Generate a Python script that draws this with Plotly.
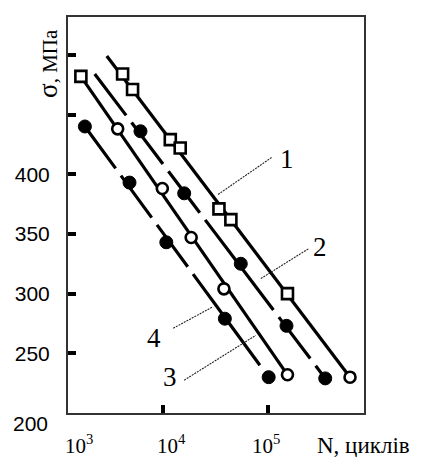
import numpy as np
import plotly.graph_objects as go

# ---------------- data ----------------
# curve 1: open squares, solid line
c1_N = [4070, 5070, 11660, 14520, 34150, 44430, 155000, 616600]
c1_sigma = [484, 471, 429, 422, 371, 362, 300, 230]
c1_fit_N = [2870, 616600]
c1_fit_sigma = [499, 230]

# curve 2: filled circles, dashed line
c2_N = [6040, 15850, 55300, 151700, 356600]
c2_sigma = [436, 384, 325, 273, 229]
c2_fit_N = [2200, 356600]
c2_fit_sigma = [484, 229]

# curve 3: open markers, solid line
c3_N = [1620, 3650, 9780, 18490, 38100, 155000]
c3_sigma = [482, 438, 388, 347, 304, 232]
c3_fit_N = [1620, 155000]
c3_fit_sigma = [482, 232]

# curve 4: filled circles, dashed line
c4_N = [1770, 4740, 10680, 38900, 102300]
c4_sigma = [440, 393, 343, 279, 230]
c4_fit_N = [1770, 102300]
c4_fit_sigma = [440, 230]

# curve labels and their leader lines
curve_labels = ["1", "2", "3", "4"]
label_N = [151700, 319900, 11670, 8200]
label_sigma = [413, 339, 230, 263]
leader_N = [[109100, 33400], [245500, 85700], [15850, 76900], [12450, 29920]]
leader_sigma = [[414, 383], [337.5, 312.5], [227.5, 265], [271, 289]]

# axis ticks
y_tick_vals = [250, 300, 350, 400]
y_tick_text = ["250", "300", "350", "400"]
y_minor_tick_vals = [450, 500]
x_tick_vals = [1e4, 1e5]
x_label_text = ["10<sup>3</sup>", "10<sup>4</sup>", "10<sup>5</sup>"]
x_label_pos = [1550, 11900, 95700]
y_bottom_label = "200"
x_title = "N, циклів"
y_title = "<span style='font-size:27px'>σ</span>, МПа"

# ---------------- figure ----------------
fig = go.Figure()
BLACK = "#000000"
DASH = "52px,9px"

def fit_line(N, s, dash):
    fig.add_trace(go.Scatter(x=N, y=s, mode="lines",
                             line=dict(color=BLACK, width=3.2, dash=dash),
                             hoverinfo="skip", showlegend=False))

fit_line(c1_fit_N, c1_fit_sigma, "solid")
fit_line(c2_fit_N, c2_fit_sigma, DASH)
fit_line(c3_fit_N, c3_fit_sigma, "solid")
fit_line(c4_fit_N, c4_fit_sigma, DASH)

for lx, ly in zip(leader_N, leader_sigma):
    fig.add_trace(go.Scatter(x=lx, y=ly, mode="lines",
                             line=dict(color="#222222", width=1.1, dash="2px,1px"),
                             hoverinfo="skip", showlegend=False))

c1_symbols = ["square"] * (len(c1_N) - 1) + ["circle"]
c3_symbols = ["square"] + ["circle"] * (len(c3_N) - 1)

fig.add_trace(go.Scatter(x=c1_N, y=c1_sigma, mode="markers",
                         marker=dict(symbol=c1_symbols, size=11, color="white",
                                     line=dict(color=BLACK, width=2.6)),
                         showlegend=False))
fig.add_trace(go.Scatter(x=c3_N, y=c3_sigma, mode="markers",
                         marker=dict(symbol=c3_symbols, size=11, color="white",
                                     line=dict(color=BLACK, width=2.6)),
                         showlegend=False))
for N, s in [(c2_N, c2_sigma), (c4_N, c4_sigma)]:
    fig.add_trace(go.Scatter(x=N, y=s, mode="markers",
                             marker=dict(symbol="circle", size=13, color=BLACK,
                                         line=dict(color=BLACK, width=1)),
                             showlegend=False))

SERIF = "Liberation Serif"
SANS = "Liberation Sans"

annotations = []
for t, n, s in zip(curve_labels, label_N, label_sigma):
    annotations.append(dict(x=np.log10(n), y=s, xref="x", yref="y", text=t,
                            showarrow=False, font=dict(family=SERIF, size=27, color=BLACK)))
for t, n in zip(x_label_text, x_label_pos):
    annotations.append(dict(x=np.log10(n), y=-0.079, xref="x", yref="paper", text=t,
                            showarrow=False, xanchor="center", yanchor="middle",
                            borderpad=0,
                            font=dict(family=SERIF, size=21, color=BLACK)))
annotations.append(dict(x=0.836, y=-0.083, xref="paper", yref="paper", text=x_title,
                        showarrow=False, xanchor="left", yanchor="middle",
                        font=dict(family=SERIF, size=23, color=BLACK)))
annotations.append(dict(x=-0.06, y=-0.026, xref="paper", yref="paper", text=y_bottom_label,
                        showarrow=False, xanchor="right", yanchor="middle",
                        font=dict(family=SANS, size=21, color=BLACK)))
annotations.append(dict(x=-0.067, y=0.882, xref="paper", yref="paper", text=y_title,
                        showarrow=False, textangle=-90, xanchor="center", yanchor="middle",
                        font=dict(family=SERIF, size=21, color=BLACK)))

# the page body has an 8px default margin, so the figure is placed at (8, 8)
fig.update_layout(
    width=413, height=449,
    margin=dict(l=58, r=57, t=7, b=44),
    paper_bgcolor="white", plot_bgcolor="white",
    showlegend=False,
    annotations=annotations,
    xaxis=dict(type="log", range=[3.086, 5.924], tickvals=x_tick_vals,
               showticklabels=False, ticks="inside", ticklen=8, tickwidth=4,
               tickcolor=BLACK, showgrid=False, zeroline=False,
               showline=True, linecolor="#333333", linewidth=2, mirror=True),
    yaxis=dict(range=[200, 531.7], tickvals=y_tick_vals, ticktext=y_tick_text,
               ticks="inside", ticklen=8, tickwidth=4, tickcolor=BLACK,
               tickfont=dict(family=SANS, size=21, color=BLACK),
               ticklabelstandoff=12,
               minor=dict(tickvals=y_minor_tick_vals, ticks="inside", ticklen=8,
                          tickwidth=4, tickcolor=BLACK, showgrid=False),
               showgrid=False, zeroline=False,
               showline=True, linecolor="#333333", linewidth=2, mirror=True),
)

fig.write_html("out.html")
